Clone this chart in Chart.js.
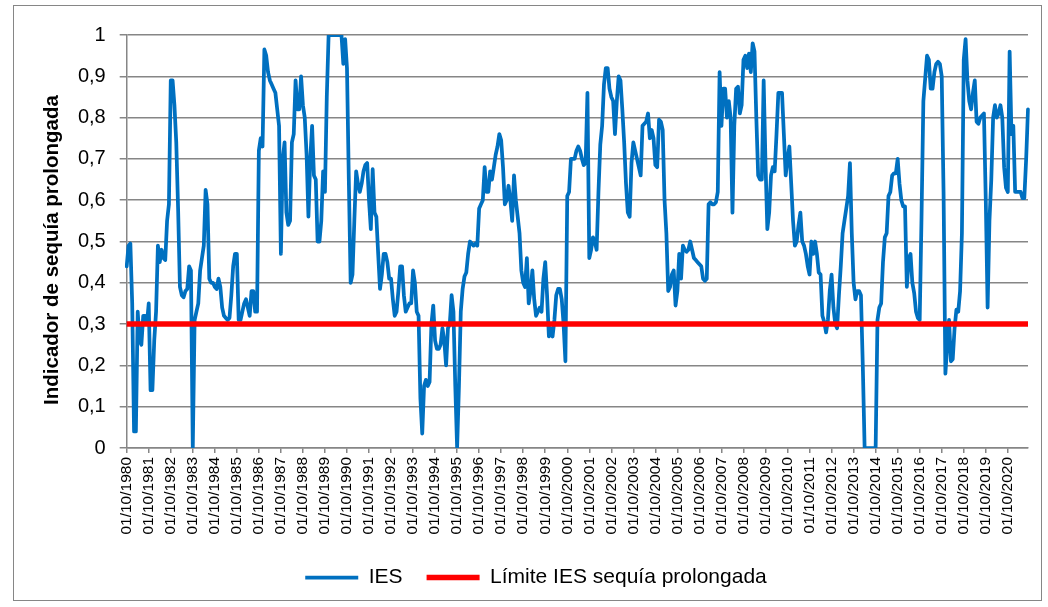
<!DOCTYPE html>
<html>
<head>
<meta charset="utf-8">
<script src="https://cdn.jsdelivr.net/npm/chart.js@4"></script>
<style>
  html, body { margin: 0; padding: 0; background: #fff; }
</style>
</head>
<body>
<canvas id="graficoIES" width="1048" height="607"></canvas>
<script>
// DATOS
const LIMITE_IES = 0.3;
const INICIO_ANIO = 1980;
const INICIO_MES = 10;

// IES mensual, una fila por año hidrológico (octubre a septiembre)
const ies = [
  0.44, 0.49, 0.495, 0.35, 0.04, 0.04, 0.33, 0.26, 0.25, 0.32, 0.32, 0.30,
  0.35, 0.14, 0.14, 0.26, 0.33, 0.49, 0.45, 0.48, 0.46, 0.455, 0.55, 0.59,
  0.89, 0.89, 0.83, 0.74, 0.58, 0.39, 0.37, 0.365, 0.38, 0.385, 0.44, 0.43,
  0.0, 0.31, 0.33, 0.35, 0.43, 0.46, 0.49, 0.625, 0.59, 0.41, 0.40, 0.40,
  0.39, 0.385, 0.41, 0.39, 0.34, 0.32, 0.315, 0.31, 0.315, 0.37, 0.44, 0.47,
  0.47, 0.31, 0.31, 0.33, 0.35, 0.36, 0.34, 0.32, 0.38, 0.38, 0.33, 0.33,
  0.72, 0.75, 0.73, 0.965, 0.95, 0.91, 0.89, 0.88, 0.87, 0.86, 0.82, 0.78,
  0.47, 0.70, 0.74, 0.57, 0.54, 0.55, 0.74, 0.76, 0.89, 0.82, 0.82, 0.90,
  0.83, 0.80, 0.71, 0.56, 0.70, 0.78, 0.66, 0.65, 0.50, 0.50, 0.55, 0.67,
  0.62, 0.85, 1, 1, 1, 1, 1, 1, 1, 1, 0.93, 0.99,
  0.92, 0.65, 0.40, 0.42, 0.55, 0.67, 0.64, 0.62, 0.64, 0.67, 0.685, 0.69,
  0.60, 0.53, 0.675, 0.57, 0.56, 0.47, 0.385, 0.42, 0.47, 0.47, 0.45, 0.41,
  0.41, 0.36, 0.32, 0.33, 0.38, 0.44, 0.44, 0.37, 0.33, 0.34, 0.35, 0.35,
  0.43, 0.40, 0.33, 0.32, 0.12, 0.035, 0.15, 0.165, 0.15, 0.16, 0.30, 0.345,
  0.26, 0.24, 0.24, 0.25, 0.29, 0.26, 0.20, 0.29, 0.30, 0.37, 0.33, 0.15,
  0.0, 0.15, 0.33, 0.385, 0.415, 0.425, 0.47, 0.50, 0.495, 0.49, 0.495, 0.49,
  0.58, 0.59, 0.60, 0.68, 0.62, 0.62, 0.67, 0.65, 0.68, 0.71, 0.73, 0.76,
  0.745, 0.68, 0.59, 0.60, 0.635, 0.60, 0.55, 0.66, 0.60, 0.56, 0.52, 0.43,
  0.40, 0.39, 0.46, 0.35, 0.38, 0.43, 0.36, 0.32, 0.33, 0.34, 0.33, 0.41,
  0.45, 0.37, 0.27, 0.29, 0.27, 0.31, 0.37, 0.385, 0.385, 0.36, 0.30, 0.21,
  0.61, 0.62, 0.70, 0.70, 0.70, 0.72, 0.73, 0.72, 0.70, 0.685, 0.69, 0.86,
  0.46, 0.48, 0.51, 0.50, 0.48, 0.62, 0.735, 0.78, 0.88, 0.92, 0.92, 0.87,
  0.85, 0.84, 0.76, 0.84, 0.90, 0.89, 0.82, 0.74, 0.64, 0.57, 0.56, 0.69,
  0.74, 0.72, 0.70, 0.68, 0.66, 0.78, 0.785, 0.79, 0.81, 0.75, 0.77, 0.75,
  0.685, 0.68, 0.795, 0.79, 0.77, 0.60, 0.52, 0.38, 0.39, 0.42, 0.43, 0.345,
  0.38, 0.47, 0.41, 0.49, 0.48, 0.475, 0.48, 0.50, 0.48, 0.46, 0.455, 0.45,
  0.445, 0.44, 0.41, 0.405, 0.41, 0.59, 0.595, 0.59, 0.59, 0.595, 0.62, 0.91,
  0.78, 0.87, 0.87, 0.80, 0.84, 0.80, 0.57, 0.78, 0.87, 0.875, 0.81, 0.83,
  0.94, 0.95, 0.92, 0.955, 0.91, 0.98, 0.96, 0.80, 0.66, 0.65, 0.65, 0.89,
  0.69, 0.53, 0.57, 0.66, 0.68, 0.67, 0.76, 0.86, 0.86, 0.86, 0.76, 0.66,
  0.70, 0.73, 0.64, 0.55, 0.49, 0.50, 0.54, 0.57, 0.50, 0.49, 0.47, 0.44,
  0.42, 0.50, 0.47, 0.50, 0.47, 0.425, 0.42, 0.32, 0.305, 0.28, 0.31, 0.38,
  0.42, 0.34, 0.30, 0.29, 0.37, 0.44, 0.52, 0.55, 0.58, 0.61, 0.69, 0.52,
  0.40, 0.36, 0.38, 0.38, 0.37, 0.20, 0, 0, 0, 0, 0, 0,
  0, 0.31, 0.34, 0.35, 0.45, 0.51, 0.52, 0.61, 0.62, 0.66, 0.665, 0.665,
  0.70, 0.64, 0.60, 0.585, 0.585, 0.39, 0.46, 0.47, 0.40, 0.375, 0.33, 0.315,
  0.31, 0.56, 0.84, 0.895, 0.95, 0.94, 0.87, 0.87, 0.91, 0.93, 0.935, 0.93,
  0.90, 0.62, 0.18, 0.25, 0.31, 0.21, 0.215, 0.29, 0.335, 0.33, 0.38, 0.52,
  0.94, 0.99, 0.89, 0.84, 0.82, 0.86, 0.89, 0.79, 0.785, 0.80, 0.805, 0.81,
  0.60, 0.34, 0.55, 0.65, 0.80, 0.83, 0.80, 0.81, 0.83, 0.80, 0.68, 0.63,
  0.62, 0.96, 0.76, 0.78, 0.62, 0.62, 0.62, 0.62, 0.605, 0.605, 0.70, 0.82
];

// FECHAS (01/mm/aaaa) desde 01/10/1980
const fechas = [];
for (let i = 0; i < ies.length; i++) {
  const m = (INICIO_MES - 1 + i) % 12 + 1;
  const a = INICIO_ANIO + Math.floor((INICIO_MES - 1 + i) / 12);
  fechas.push("01/" + String(m).padStart(2, "0") + "/" + a);
}

const fuente = "'Liberation Sans', Arial, sans-serif";
const gris = "#868686";

// TITULO EJE Y
const tituloEje = {
  id: "tituloEje",
  afterDraw(chart) {
    const ctx = chart.ctx;
    ctx.save();
    ctx.translate(52, 250);
    ctx.rotate(-Math.PI / 2);
    ctx.font = "bold 20.5px " + fuente;
    ctx.fillStyle = "#000";
    ctx.textAlign = "center";
    ctx.textBaseline = "middle";
    ctx.fillText("Indicador de sequía prolongada", 0, 0);
    ctx.restore();
  }
};

// MARCO DEL GRAFICO
const marco = {
  id: "marco",
  afterDraw(chart) {
    const ctx = chart.ctx;
    ctx.save();
    ctx.strokeStyle = gris;
    ctx.lineWidth = 1;
    ctx.strokeRect(13.5, 5.5, 1028, 595);
    ctx.restore();
  }
};

new Chart(document.getElementById("graficoIES"), {
  type: "line",
  data: {
    labels: fechas,
    datasets: [
      {
        label: "IES",
        data: ies,
        borderColor: "#0070C0",
        backgroundColor: "#0070C0",
        borderWidth: 3.75,
        borderJoinStyle: "round",
        borderCapStyle: "round",
        pointRadius: 0,
        tension: 0,
        order: 2
      },
      {
        label: "Límite IES sequía prolongada",
        data: [
          { x: fechas[0], y: LIMITE_IES },
          { x: fechas[fechas.length - 1], y: LIMITE_IES }
        ],
        borderColor: "#FF0000",
        backgroundColor: "#FF0000",
        borderWidth: 5.5,
        pointRadius: 0,
        order: 1
      }
    ]
  },
  options: {
    responsive: false,
    animation: false,
    layout: { padding: { left: 44, right: 20, top: 35, bottom: 9 } },
    scales: {
      x: {
        type: "category",
        offset: false,
        grid: { drawOnChartArea: false, color: gris, lineWidth: 1.5, tickLength: 5 },
        border: { color: gris, width: 1.5 },
        ticks: {
          autoSkip: false,
          minRotation: 90,
          maxRotation: 90,
          padding: 4,
          color: "#000",
          font: { family: fuente, size: 15.5 },
          callback: (valor, i) => (i % 12 === 0 ? fechas[i] : null)
        },
        afterFit: (s) => { s.height = 95; }
      },
      y: {
        min: 0,
        max: 1,
        grid: { color: gris, lineWidth: 1.5, tickLength: 7 },
        border: { color: gris, width: 1.5 },
        ticks: {
          stepSize: 0.1,
          padding: 14,
          color: "#000",
          font: { family: fuente, size: 20 },
          callback: (v) => String(Math.round(v * 10) / 10).replace(".", ",")
        },
        afterFit: (s) => { s.width = 82.7; }
      }
    },
    plugins: {
      legend: {
        position: "bottom",
        labels: {
          usePointStyle: true,
          pointStyle: "line",
          pointStyleWidth: 53,
          padding: 24,
          color: "#000",
          font: { family: fuente, size: 21 },
          sort: (a, b) => a.datasetIndex - b.datasetIndex
        }
      },
      tooltip: { enabled: false }
    }
  },
  plugins: [tituloEje, marco]
});
</script>
</body>
</html>
